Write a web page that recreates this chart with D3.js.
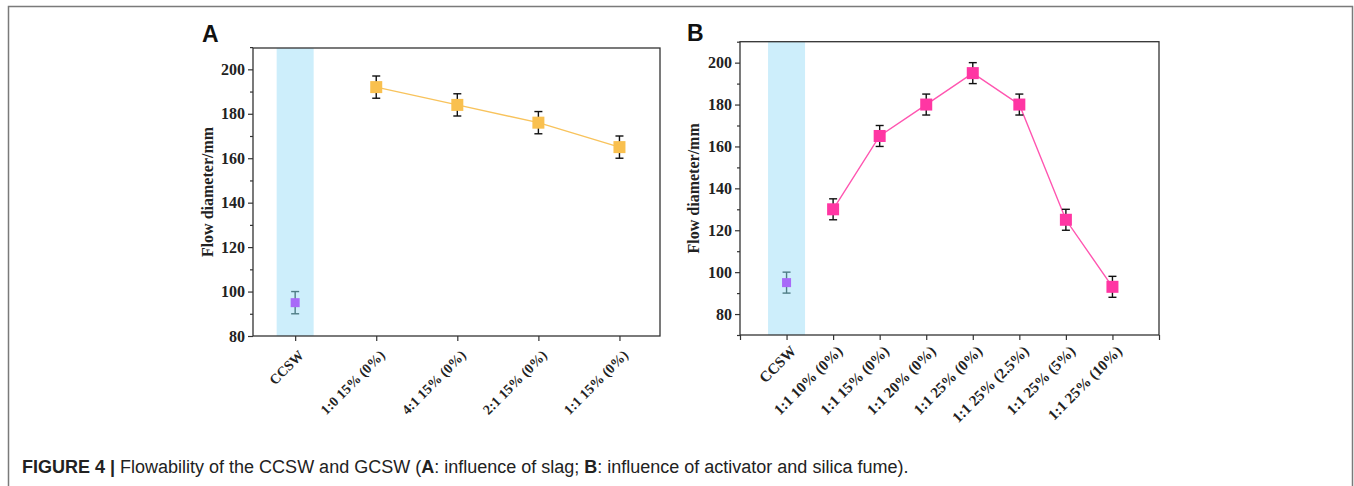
<!DOCTYPE html>
<html><head><meta charset="utf-8">
<script src="https://cdn.jsdelivr.net/npm/d3@7"></script>
<style>body{margin:0;background:#fff}svg{display:block}</style>
</head><body>
<svg id="c" width="1354" height="486"></svg>
<script>
// Panel A data
const catsA = ["CCSW", "1:0 15% (0%)", "4:1 15% (0%)", "2:1 15% (0%)", "1:1 15% (0%)"];
const valsA = [95, 192, 184, 176, 165];
const errA = [5, 5, 5, 5, 5];
// Panel B data
const catsB = ["CCSW", "1:1 10% (0%)", "1:1 15% (0%)", "1:1 20% (0%)", "1:1 25% (0%)", "1:1 25% (2.5%)", "1:1 25% (5%)", "1:1 25% (10%)"];
const valsB = [95, 130, 165, 180, 195, 180, 125, 93];
const errB = [5, 5, 5, 5, 5, 5, 5, 5];
const yTicksA = [80, 100, 120, 140, 160, 180, 200];
const yTicksB = [80, 100, 120, 140, 160, 180, 200];
const caption = ["FIGURE 4 |", " Flowability of the CCSW and GCSW (", "A", ": influence of slag; ", "B", ": influence of activator and silica fume)."];

const svg = d3.select("#c");
// outer border (open at bottom)
svg.append("path").attr("d","M8.5,486 V6.5 H1352.5 V486").attr("fill","none").attr("stroke","#7a7a7a").attr("stroke-width",1.5);

function panel(o){
  const g = svg.append("g");
  const x = d3.scaleLinear().domain(o.xdom).range([o.left,o.right]);
  const y = d3.scaleLinear().domain(o.ydom).range([o.bottom,o.top]);
  // band
  g.append("rect").attr("x", x(0)-18.5).attr("width",37).attr("y",o.top).attr("height",o.bottom-o.top).attr("fill","#cdeefb");
  // frame
  g.append("rect").attr("x",o.left).attr("y",o.top).attr("width",o.right-o.left).attr("height",o.bottom-o.top)
   .attr("fill","none").attr("stroke","#333").attr("stroke-width",1.3);
  // y axis
  const yMinor = d3.range(o.ydom[0], o.ydom[1]+1, 10).filter(v=>!o.yticks.includes(v));
  const ya = d3.axisLeft(y).tickValues(o.yticks).tickSize(5).tickPadding(3).tickFormat(d3.format("d"));
  const yg = g.append("g").attr("transform",`translate(${o.left},0)`).call(ya);
  yg.select(".domain").remove();
  yg.selectAll("line").attr("stroke","#333").attr("stroke-width",1.2);
  yg.selectAll("text").attr("font-family","'Liberation Serif',serif").attr("font-weight","bold").attr("font-size",16).attr("fill","#222");
  g.append("g").attr("transform",`translate(${o.left},0)`).call(d3.axisLeft(y).tickValues(yMinor).tickSize(3).tickFormat(""))
   .call(s=>{s.select(".domain").remove(); s.selectAll("line").attr("stroke","#333").attr("stroke-width",1.2);});
  // x axis
  const xa = d3.axisBottom(x).tickValues(o.xticks).tickSize(5).tickFormat(d=> o.cats[d] || "");
  const xg = g.append("g").attr("transform",`translate(0,${o.bottom})`).call(xa);
  xg.select(".domain").remove();
  xg.selectAll("line").attr("stroke","#333").attr("stroke-width",1.2);
  xg.selectAll("text").attr("font-family","'Liberation Serif',serif").attr("font-weight","bold").attr("font-size",o.xfs).attr("fill","#222")
    .attr("text-anchor","end").attr("dy","0").attr("y",0)
    .attr("transform",`translate(${o.xoff[0]},${o.xoff[1]}) rotate(-45)`);
  // y label
  g.append("text").attr("transform",`translate(${o.ylx},${(o.top+o.bottom)/2}) rotate(-90)`).attr("text-anchor","middle")
   .attr("font-family","'Liberation Serif',serif").attr("font-weight","bold").attr("font-size",16).attr("fill","#222").text("Flow diameter/mm");
  // panel letter
  g.append("text").attr("x",o.lx).attr("y",o.ly).attr("font-family","'Liberation Sans',Arial,sans-serif").attr("font-weight","bold").attr("font-size",23).attr("fill","#111").text(o.letter);
  // line (excluding CCSW)
  const idx = d3.range(1,o.vals.length);
  g.append("path").datum(idx).attr("fill","none").attr("stroke",o.lineColor).attr("stroke-width",1.4)
   .attr("d", d3.line().x(i=>x(i)).y(i=>y(o.vals[i])));
  // error bars
  o.vals.forEach((v,i)=>{
    const c = i===0 ? "#4f7d86" : "#111";
    const cx = x(i);
    g.append("line").attr("x1",cx).attr("x2",cx).attr("y1",y(v-o.err[i])).attr("y2",y(v+o.err[i])).attr("stroke",c).attr("stroke-width",1.4);
    [v-o.err[i], v+o.err[i]].forEach(e=>g.append("line").attr("x1",cx-4).attr("x2",cx+4).attr("y1",y(e)).attr("y2",y(e)).attr("stroke",c).attr("stroke-width",1.4));
  });
  // markers
  o.vals.forEach((v,i)=>{
    const s = i===0 ? 9 : o.ms;
    g.append("rect").attr("x",x(i)-s/2).attr("y",y(v)-s/2).attr("width",s).attr("height",s)
     .attr("fill", i===0 ? "#a86af8" : o.markColor);
  });
}

panel({cats:catsA, vals:valsA, err:errA, xdom:[-0.52,4.5], xticks:d3.range(0,5), ydom:[80,209.6], yticks:yTicksA,
  left:253, right:660, top:48, bottom:336, ylx:213, lx:202, ly:42, letter:"A", lineColor:"#f8c35c", markColor:"#f9c04f", ms:12,
  xfs:14, xoff:[9,20]});
panel({cats:catsB, vals:valsB, err:errB, xdom:[-1,8], xticks:d3.range(-1,9), ydom:[70,210], yticks:yTicksB,
  left:740, right:1159, top:41.7, bottom:335, ylx:699, lx:687, ly:41, letter:"B", lineColor:"#ff55b0", markColor:"#ff36a3", ms:12,
  xfs:15, xoff:[10,17]});

// caption
const t = svg.append("text").attr("x",22).attr("y",473).attr("font-family","'Liberation Sans',Arial,sans-serif").attr("font-size",18).attr("fill","#222");
caption.forEach((s,i)=>{ t.append("tspan").attr("font-weight", (i===0||i===2||i===4)?"bold":"normal").text(s); });
</script>
</body></html>
